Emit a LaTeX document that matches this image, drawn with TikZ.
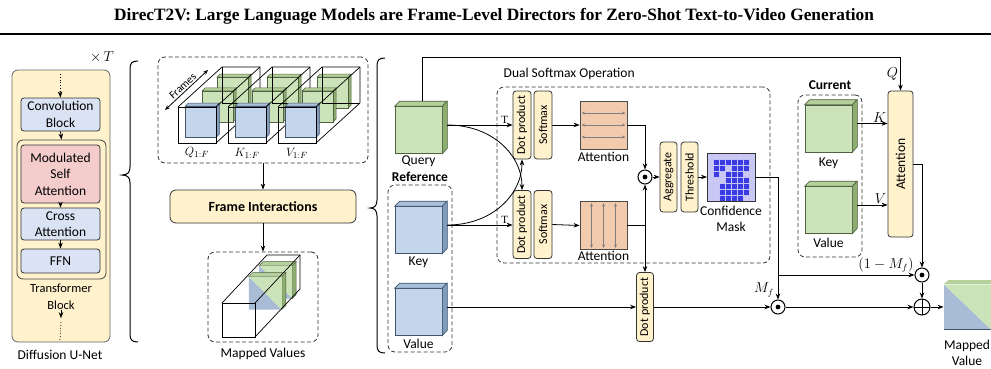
\documentclass[tikz,border=0pt]{standalone}
\usepackage{fontspec}
\setmainfont{Carlito}
\newfontfamily\titlefont{Liberation Serif}
\usetikzlibrary{arrows.meta, calc, positioning}

\definecolor{ylw}{HTML}{FFF2CC}
\definecolor{ublue}{HTML}{DAE3F3}
\definecolor{upink}{HTML}{F4CCCC}
\definecolor{grnface}{HTML}{CCE2B8}
\definecolor{grntop}{HTML}{B6D09C}
\definecolor{grnside}{HTML}{8EAD70}
\definecolor{grnline}{HTML}{4F6140}
\definecolor{bluface}{HTML}{C4D6EC}
\definecolor{blutop}{HTML}{A9C0DC}
\definecolor{bluside}{HTML}{7F9BBD}
\definecolor{bluline}{HTML}{44546A}
\definecolor{mixblu}{HTML}{A9BCD6}
\definecolor{peach}{HTML}{F2CBAE}
\definecolor{mask1}{HTML}{3B3BE3}
\definecolor{mask0}{HTML}{C9C9F4}

\begin{document}
\begin{tikzpicture}[x=1pt, y=-1pt, line width=0.8pt,
    font=\fontsize{13.5}{16.5}\selectfont,
    arr/.style={-{Stealth[length=6pt,width=4.5pt]}},
    blk/.style={draw=black!80, rounded corners=3pt, align=center, inner sep=1pt, minimum width=79pt},
    ybox/.style={draw=black!80, fill=ylw, rounded corners=3pt, inner sep=1pt},
    vbox/.style={ybox, rotate=90, minimum height=18pt, font=\fontsize{12}{14}\selectfont},
    dbox/.style={draw=black!80, dash pattern=on 4pt off 2.5pt, rounded corners=7pt, inner sep=0pt},
    face/.style={draw=#1line, fill=#1face, line width=0.6pt, minimum width=47pt, minimum height=47pt, inner sep=0pt},
    odotc/.style={circle, draw, line width=1pt, fill=white, minimum size=14pt, inner sep=0pt,
        path picture={\fill[black] (path picture bounding box.center) circle (2.4pt);}},
    opl/.style={circle, draw, line width=1pt, fill=white, minimum size=16pt, inner sep=0pt,
        path picture={\draw[black, line width=1pt] (path picture bounding box.north) -- (path picture bounding box.south)
            (path picture bounding box.west) -- (path picture bounding box.east);}},
    mtx/.style={draw=black!70, fill=peach, minimum width=47pt, minimum height=48pt, inner sep=0pt},
    gar/.style={{Stealth[length=3.5pt,width=3pt]}-{Stealth[length=3.5pt,width=3pt]}, gray, line width=0.9pt},
    tlab/.style={font=\titlefont\fontsize{11}{12}\selectfont, inner sep=1pt}
]
    \fill[white] (0,0) rectangle (991,368);
    \useasboundingbox (0,0) rectangle (991,368);

    % title
    \node[font=\titlefont\bfseries\fontsize{17.3}{19}\selectfont] (title) at (494,16)
        {DirecT2V: Large Language Models are Frame-Level Directors for Zero-Shot Text-to-Video Generation};
    \draw[line width=1.6pt] (0,34) -- (991,34);

    % Diffusion U-Net
    \node[draw=black!60, fill=ylw, rounded corners=6pt, minimum width=98pt, minimum height=272pt] (unet) at (61,206) {};
    \node[blk, fill=ublue, minimum height=33pt] (conv) at (60.5,114.5) {Convolution\\Block};
    \node[draw=black!75, fill=ylw, rounded corners=6pt, minimum width=89pt, minimum height=139pt] (tblock) at (61.5,209.5) {};
    \node[blk, fill=upink, minimum height=58pt] (msa) at (60.5,174) {Modulated\\Self\\Attention};
    \node[blk, fill=ublue, minimum height=32pt] (cross) at (60.5,224) {Cross\\Attention};
    \node[blk, fill=ublue, minimum height=24pt] (ffn) at (60.5,261) {FFN};
    \node[align=center, inner sep=0pt, font=\fontsize{12.5}{17}\selectfont] (tlabel) at (61,297) {Transformer\\Block};
    \node (unetlab) at (60,355) {Diffusion U-Net};
    \node (times) at (102,57) {$\times\,T$};
    \coordinate (utop) at (60,74);
    \coordinate (ubot) at (60,340);
    \draw[dotted] (utop) -- ++(0,17) coordinate (u1);
    \draw[arr] (u1) -- (conv.north);
    \draw[arr] (conv.south) -- (tblock.north);
    \draw[arr] (msa.south) -- (cross.north);
    \draw[arr] (cross.south) -- (ffn.north);
    \draw[arr] (tlabel.south) -- ++(0,8) coordinate (u2);
    \draw[dotted] ($(u2)+(0,4)$) -- (ubot);

    % braces
    \draw[line width=1pt] (138,61) .. controls (132,61) and (130,63) .. (130,69) -- (130,167)
        .. controls (130,172) and (128,175) .. (122,175) .. controls (128,175) and (130,178) .. (130,183)
        -- (130,334) .. controls (130,340) and (132,342) .. (138,342);
    \draw[line width=1pt] (385,58) .. controls (379,58) and (377,60) .. (377,66) -- (377,200)
        .. controls (377,205) and (375,208) .. (370,208) .. controls (375,208) and (377,211) .. (377,216)
        -- (377,345) .. controls (377,351) and (379,353) .. (385,353);

    % frames of Q, K, V
    \node[dbox, minimum width=210pt, minimum height=106pt] (framesbox) at (263,110) {};
    \foreach \c/\name in {0/Q, 1/K, 2/V}{
        \pgfmathsetmacro{\bx}{178+50*\c}
        \foreach \fr/\cl in {0.82/grn, 0.48/grn, 0.1/blu}{
            \coordinate (sl) at ($(\bx+3,141)+\fr*(44,-40)$);
            \filldraw[fill=\cl side, draw=\cl line, line width=0.5pt] (sl) ++(31,0) -- ++(3,-3) -- ++(0,-31) -- ++(-3,3) -- cycle;
            \filldraw[fill=\cl top, draw=\cl line, line width=0.5pt] (sl) ++(0,-31) -- ++(3,-3) -- ++(31,0) -- ++(-3,3) -- cycle;
            \filldraw[fill=\cl face, draw=\cl line, line width=0.5pt] (sl) rectangle ++(31,-31);
        }
        \draw[line width=0.7pt] (\bx,143) rectangle ++(38,-36);
        \draw[line width=0.7pt] (\bx,107) -- ++(44,-40) -- ++(38,0) -- ++(0,36);
        \draw[line width=0.7pt] (\bx+38,107) -- ++(44,-40);
        \draw[line width=0.7pt] (\bx+38,143) -- ++(44,-40);
        \draw[line width=0.5pt] (\bx+44,67) -- ++(0,36) -- ++(38,0);
        \node[font=\fontsize{12.5}{14}\selectfont] (lab\name) at (\bx+19,153) {$\name_{1:F}$};
    }
    \draw[{Stealth[length=5pt,width=4pt]}-{Stealth[length=5pt,width=4pt]}] (165,110) -- (208,70)
        node[midway, sloped, above, inner sep=1.5pt, font=\fontsize{11}{12}\selectfont] (frameslab) {Frames};

    \node[ybox, rounded corners=6pt, minimum width=186pt, minimum height=33pt, font=\bfseries\fontsize{14}{16}\selectfont] (fi) at (263,206.5) {Frame Interactions};
    \node[dbox, minimum width=110pt, minimum height=90pt] (mapbox) at (263,297) {};
    \node (maplab) at (263,354) {Mapped Values};
    \draw[arr] (framesbox.south) -- (fi.north);
    \draw[arr] (fi.south) -- (mapbox.north);
    % mapped cuboid
    \foreach \fr in {0.78,0.55}{
        \coordinate (ms) at ($(224,336)+\fr*(45,-48)$);
        \filldraw[fill=grnside, draw=grnline, line width=0.5pt] (ms) ++(33,0) -- ++(4,-4) -- ++(0,-33) -- ++(-4,4) -- cycle;
        \filldraw[fill=grntop, draw=grnline, line width=0.5pt] (ms) ++(0,-33) -- ++(4,-4) -- ++(33,0) -- ++(-4,4) -- cycle;
        \fill[mixblu] (ms) -- ++(0,-33) -- ++(33,33) -- cycle;
        \fill[grnface] (ms) ++(0,-33) -- ++(33,0) -- ++(0,33) -- cycle;
    }
    \draw[line width=0.7pt] (222,337) rectangle ++(33,-34);
    \draw[line width=0.7pt] (222,303) -- ++(45,-48) -- ++(33,0) -- ++(0,34);
    \draw[line width=0.7pt] (255,303) -- ++(45,-48);
    \draw[line width=0.7pt] (255,337) -- ++(45,-48);

    % reference query, key, value
    \node[face=grn] (qry) at (418.5,130) {};
    \node (qrylab) at (418.5,161) {Query};
    \node[dbox, minimum width=64pt, minimum height=167pt] (refbox) at (420,268.5) {};
    \node[font=\bfseries\fontsize{13.5}{16}\selectfont] (reflab) at (420,177) {Reference};
    \node[face=blu] (keyr) at (418.5,230) {};
    \node (keyrlab) at (418.5,262) {Key};
    \node[face=blu] (valr) at (418.5,312) {};
    \node (valrlab) at (418.5,344) {Value};

    % current key, value
    \node[dbox, minimum width=64pt, minimum height=162pt] (curbox) at (830,176) {};
    \node[font=\bfseries\fontsize{13.5}{16}\selectfont] (curlab) at (830,85) {Current};
    \node[face=grn] (keyc) at (828.5,128.5) {};
    \node (keyclab) at (828.5,163) {Key};
    \node[face=grn] (valc) at (828.5,210) {};
    \node (valclab) at (828.5,243) {Value};

    \foreach \cb/\cl in {qry/grn, keyr/blu, valr/blu, keyc/grn, valc/grn}{
        \filldraw[fill=\cl top, draw=\cl line, line width=0.6pt] (\cb.north west) -- ++(5,-5) -- ++(47,0) -- (\cb.north east) -- cycle;
        \filldraw[fill=\cl side, draw=\cl line, line width=0.6pt] (\cb.north east) -- ++(5,-5) -- ++(0,47) -- (\cb.south east) -- cycle;
    }

    % dual softmax operation
    \node[dbox, minimum width=273pt, minimum height=176pt] (dsbox) at (633.5,175) {};
    \node[anchor=west] (dslab) at (500,74) {Dual Softmax Operation};
    \node[vbox, minimum width=68pt] (dp1) at (522,125) {Dot product};
    \node[vbox, minimum width=68pt] (sm1) at (543,125) {Softmax};
    \node[vbox, minimum width=68pt] (dp2) at (522,224.5) {Dot product};
    \node[vbox, minimum width=68pt] (sm2) at (543,224.5) {Softmax};
    \node[mtx] (att1) at (603.5,125) {};
    \node[mtx] (att2) at (603.5,225.5) {};
    \foreach \d in {-12,0,12}{
        \draw[gar] ($(att1.west)+(2,\d)$) -- ($(att1.east)+(-2,\d)$);
        \draw[gar] ($(att2.north)+(\d,2)$) -- ($(att2.south)+(\d,-2)$);
    }
    \node (att1lab) at (603.5,157) {Attention};
    \node (att2lab) at (603.5,256) {Attention};
    \node[odotc] (od1) at (645,177) {};
    \node[vbox, minimum width=70pt, minimum height=17pt] (agg) at (668.5,177) {Aggregate};
    \node[vbox, minimum width=70pt, minimum height=17pt] (thr) at (689.5,177) {Threshold};
    \node[minimum size=48pt, inner sep=0pt, outer sep=0pt] (mask) at (731,177) {};
    \foreach \row [count=\r from 0] in {{0,0,0,0,0,0,0,0},{0,1,1,1,1,1,1,0},{0,1,1,0,1,1,1,0},{0,1,0,1,1,1,0,0},
                                        {0,0,0,1,1,1,1,0},{0,0,1,1,1,1,1,0},{0,0,1,1,1,1,1,0},{0,0,1,1,1,1,0,0}}{
        \foreach \v [count=\cc from 0] in \row {
            \filldraw[fill=mask\v, draw=white!70!mask1, line width=0.4pt] ($(mask.north west)+(6*\cc,6*\r)$) rectangle ++(6,6);
        }
    }
    \draw[black!80] (mask.north west) rectangle (mask.south east);
    \node[align=center] (masklab) at (731,219) {Confidence\\Mask};

    \node[vbox, minimum width=69pt, minimum height=17pt] (dotv) at (645,307) {Dot product};
    \node[odotc] (mf) at (778,307) {};
    \node (mflab) at (764,290) {$M_f$};

    \node[ybox, rotate=90, minimum width=146pt, minimum height=25pt] (attn) at (900.5,164) {Attention};
    \node[odotc] (om) at (922,275) {};
    \node (omlab) at (886,265) {$(1-M_f)$};
    \node[opl] (op) at (922,307) {};
    \node[minimum width=47pt, minimum height=45pt, inner sep=0pt,
        path picture={\fill[mixblu] (path picture bounding box.north west) -- (path picture bounding box.south west) -- (path picture bounding box.south east) -- cycle;
                      \fill[grnface] (path picture bounding box.north west) -- (path picture bounding box.north east) -- (path picture bounding box.south east) -- cycle;}]
        (mv) at (967.5,307) {};
    \fill[grntop] (mv.north west) -- ++(5,-4) -- ++(47,0) -- (mv.north east) -- cycle;
    \draw[bluline, line width=1pt] (mv.south west) -- (mv.south east);
    \node[align=center] (mvlab) at (967,353) {Mapped\\Value};

    % connectors
    \coordinate (q0) at ($(qry.east)+(5,-5)$);
    \coordinate (k0) at ($(keyr.east)+(5,-5)$);
    \coordinate (v0) at ($(valr.east)+(5,-5)$);
    \draw[arr] (q0) -- (q0 -| dp1.north) node[pos=0.88, above, tlab] (t1) {T};
    \draw[arr] (k0) -- (k0 -| dp2.north) node[pos=0.88, above, tlab] (t2) {T};
    \draw[arr] (q0) .. controls +(45,0) and +(0,-35) .. (dp2.east);
    \draw[arr] (k0) .. controls +(45,0) and +(0,35) .. (dp1.west);
    \draw[arr] (sm1.south) -- (att1.west);
    \draw[arr] (sm2.south) -- (att2.west);
    \draw[arr] (att1.east) -| (od1.north);
    \draw[arr] (att2.east) -| (od1.south);
    \draw[arr] (att2.east -| od1.south) -- (dotv.east);
    \draw[arr] (od1.east) -- (agg.north);
    \draw[arr] (thr.south) -- (mask.west);
    \draw[arr] (mask.east) -| (mf.north);
    \draw[arr] (mf.north |- om.west) -- (om.west);
    \draw[arr] (v0) -- (v0 -| dotv.north);
    \draw[arr] (dotv.south) -- (mf.west);
    \draw[arr] (mf.east) -- (op.west);
    \draw[arr] (om.south) -- (op.north);
    \draw[arr] (op.east) -- (mv.west);
    \draw[arr] ($(qry.north)+(4,-5)$) |- ($(attn.east)+(0,-33)$) -- (attn.east) node[midway, left, inner sep=2pt] (qlab) {$Q$};
    \coordinate (kc0) at ($(keyc.east)+(5,-5)$);
    \coordinate (vc0) at ($(valc.east)+(5,-5)$);
    \draw[arr] (kc0) -- (kc0 -| attn.north) node[pos=1, above left, inner sep=1pt] (klab) {$K$};
    \draw[arr] (vc0) -- (vc0 -| attn.north) node[pos=1, above left, inner sep=1pt] (vlab) {$V$};
    \draw[arr] (attn.south) -| (om.north);
\end{tikzpicture}
\end{document}
